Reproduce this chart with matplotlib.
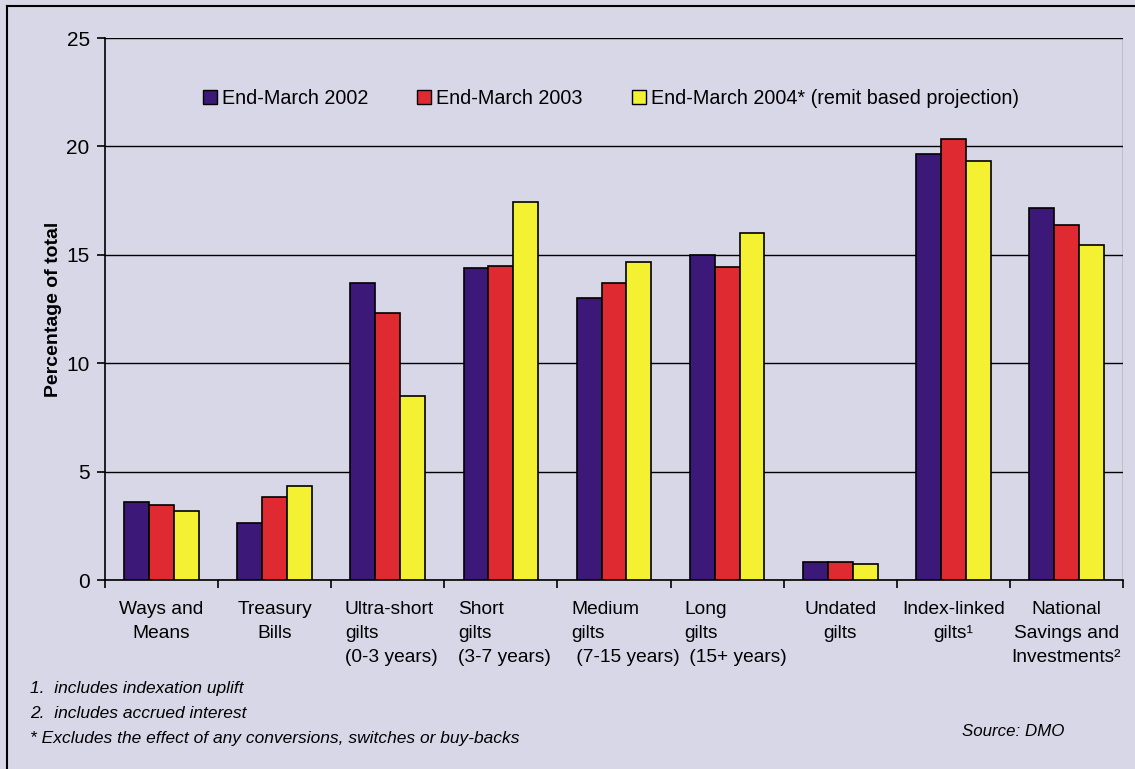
import numpy as np
import matplotlib.pyplot as plt
from matplotlib.lines import Line2D

plt.rcParams['font.family'] = ['Liberation Sans', 'DejaVu Sans']

categories = [
    'Ways and\nMeans',
    'Treasury\nBills',
    'Ultra-short\ngilts\n(0-3 years)',
    'Short\ngilts\n(3-7 years)',
    'Medium\ngilts\n (7-15 years)',
    'Long\ngilts\n (15+ years)',
    'Undated\ngilts',
    'Index-linked\ngilts\u00b9',
    'National\nSavings and\nInvestments\u00b2',
]
label_align = ['center', 'center', 'left', 'left', 'left', 'left', 'center', 'center', 'center']

series_names = ['End-March 2002', 'End-March 2003',
                'End-March 2004* (remit based projection)']
mar2002 = [3.6, 2.65, 13.7, 14.4, 13.0, 15.0, 0.82, 19.65, 17.15]
mar2003 = [3.47, 3.85, 12.3, 14.48, 13.7, 14.42, 0.82, 20.33, 16.38]
mar2004 = [3.2, 4.35, 8.5, 17.45, 14.68, 16.02, 0.75, 19.33, 15.45]
colors = ['#3C1878', '#E02A32', '#F4F032']

footnotes = ['1.  includes indexation uplift',
             '2.  includes accrued interest',
             '* Excludes the effect of any conversions, switches or buy-backs']

bg = '#D8D7E7'
fig = plt.figure(figsize=(11.35, 7.69), dpi=100, facecolor=bg)
ax = fig.add_axes([105 / 1135, 1 - 580 / 769, 1018 / 1135, 542 / 769])
ax.set_facecolor(bg)

x = np.arange(len(categories))
w = 0.22
for i, vals in enumerate([mar2002, mar2003, mar2004]):
    ax.bar(x + (i - 1) * w, vals, w, color=colors[i], edgecolor='black',
           linewidth=1.2, zorder=3, label=series_names[i])

ax.set_xlim(-0.5, len(categories) - 0.5)
ax.set_ylim(0, 25)
ax.set_yticks([0, 5, 10, 15, 20, 25])
ax.yaxis.grid(True, color='black', linewidth=1.0, zorder=0)
for s in ['top', 'right']:
    ax.spines[s].set_visible(False)
ax.spines['left'].set_linewidth(1.2)
ax.spines['bottom'].set_linewidth(1.2)
ax.axvline(len(categories) - 0.5, color='#555555', linewidth=1.0, zorder=1)

ax.set_xticks(np.arange(len(categories) + 1) - 0.5)
ax.set_xticklabels([])
ax.tick_params(axis='x', length=6, width=1.2, direction='out')
ax.tick_params(axis='y', length=6, width=1.2, direction='out', labelsize=15, pad=5)

for xi, lab, al in zip(x, categories, label_align):
    if al == 'left':
        ax.text(xi - 0.38, -0.95, lab, ha='left', va='top', fontsize=13.8,
                linespacing=1.55, multialignment='left')
    else:
        ax.text(xi, -0.95, lab, ha='center', va='top', fontsize=13.8,
                linespacing=1.55, multialignment='center')

ax.set_ylabel('Percentage of total', fontsize=14, fontweight='bold', labelpad=3)

handles = [Line2D([], [], marker='s', linestyle='none', markersize=10.5,
                  markerfacecolor=c, markeredgecolor='black', markeredgewidth=1.0)
           for c in colors]
ax.legend(handles, series_names, loc='center', bbox_to_anchor=(0.496, 0.889),
          ncol=3, frameon=False, fontsize=14.2, handletextpad=0.15,
          columnspacing=2.4, handlelength=0.9)

for i, note in enumerate(footnotes):
    fig.text(30 / 1135, 1 - (688 + i * 25) / 769, note, fontsize=12.5,
             style='italic', va='center', ha='left')
fig.text(1013 / 1135, 1 - 731 / 769, 'Source: DMO', fontsize=12.2,
         style='italic', va='center', ha='center')

# outer frame (left and top edges)
fig.add_artist(Line2D([7 / 1135, 7 / 1135], [0, 1 - 6 / 769], color='black', linewidth=1.5))
fig.add_artist(Line2D([7 / 1135, 1], [1 - 6 / 769, 1 - 6 / 769], color='black', linewidth=1.5))

fig.savefig('out.png', dpi=100, facecolor=bg)
